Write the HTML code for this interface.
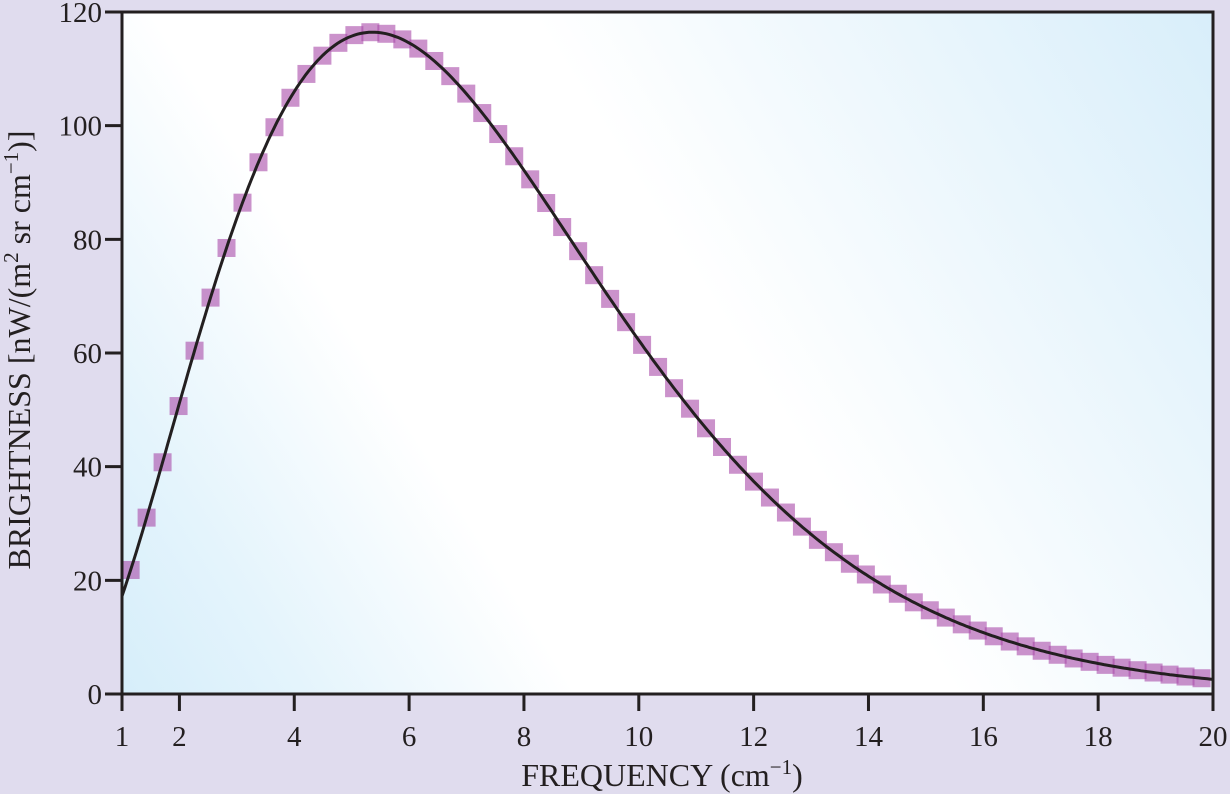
<!DOCTYPE html>
<html><head><style>
html,body{margin:0;padding:0;background:#e0dcee;}
svg{display:block;font-family:"Liberation Serif",serif;}
</style></head><body>
<svg id="s" width="1230" height="794" viewBox="0 0 1230 794">
<defs>
<linearGradient id="g" gradientUnits="userSpaceOnUse" x1="122" y1="694" x2="1213" y2="12">
<stop offset="0" stop-color="#d6eefa"/>
<stop offset="0.12" stop-color="#e4f4fc"/>
<stop offset="0.3" stop-color="#ffffff"/>
<stop offset="0.55" stop-color="#ffffff"/>
<stop offset="1" stop-color="#d8eefa"/>
</linearGradient>
</defs>
<rect x="122" y="12" width="1091" height="682" fill="url(#g)"/>
<g id="pts"></g>
<path id="curve" fill="none" stroke="#231f20" stroke-width="3"/>
<rect x="122" y="12" width="1091" height="682" fill="none" stroke="#231f20" stroke-width="3"/>
<g id="ticks" stroke="#231f20" stroke-width="3"></g>
<g id="lbl" font-size="29" fill="#231f20"></g>
<text x="662" y="786" font-size="32" text-anchor="middle" fill="#231f20">FREQUENCY (cm<tspan dy="-12" font-size="21">−1</tspan><tspan dy="12">)</tspan></text>
<text transform="translate(30,350) rotate(-90)" font-size="32" text-anchor="middle" fill="#231f20">BRIGHTNESS [nW/(m<tspan dy="-12" font-size="21">2</tspan><tspan dy="12"> sr cm</tspan><tspan dy="-12" font-size="21">−1</tspan><tspan dy="12">)]</tspan></text>
</svg>
<script>
var NS="http://www.w3.org/2000/svg";
function X(v){return 122+(v-1)*1091/19;}
function Y(b){return 694-b*682/120;}
function B(n){var x=1.4388*n/2.735;return 11.927*n*n*n/(Math.exp(x)-1);}
var d="";
for(var n=1;n<=20.001;n+=0.05){d+=(d?"L":"M")+X(n).toFixed(1)+","+Y(B(n)).toFixed(1);}
document.getElementById("curve").setAttribute("d",d);
var pts=document.getElementById("pts");
for(var i=0;i<=67;i++){var n=1.15+i*(19.8-1.15)/67;var r=document.createElementNS(NS,"rect");
r.setAttribute("x",X(n)-9);r.setAttribute("y",Y(B(n))-9);r.setAttribute("width",18);r.setAttribute("height",18);
r.setAttribute("fill","#a84aa8");r.setAttribute("fill-opacity","0.6");pts.appendChild(r);}
var t=document.getElementById("ticks"),l=document.getElementById("lbl");
function line(a,b,c,e){var q=document.createElementNS(NS,"line");q.setAttribute("x1",a);q.setAttribute("y1",b);q.setAttribute("x2",c);q.setAttribute("y2",e);t.appendChild(q);}
function txt(x,y,s,anc){var q=document.createElementNS(NS,"text");q.setAttribute("x",x);q.setAttribute("y",y);q.setAttribute("text-anchor",anc);q.textContent=s;l.appendChild(q);}
[1,2,4,6,8,10,12,14,16,18,20].forEach(function(v){line(X(v),694,X(v),711);txt(X(v),746,v,"middle");});
for(var b=0;b<=120;b+=20){line(105,Y(b),122,Y(b));txt(102,Y(b)+10,b,"end");}
</script>
</body></html>
